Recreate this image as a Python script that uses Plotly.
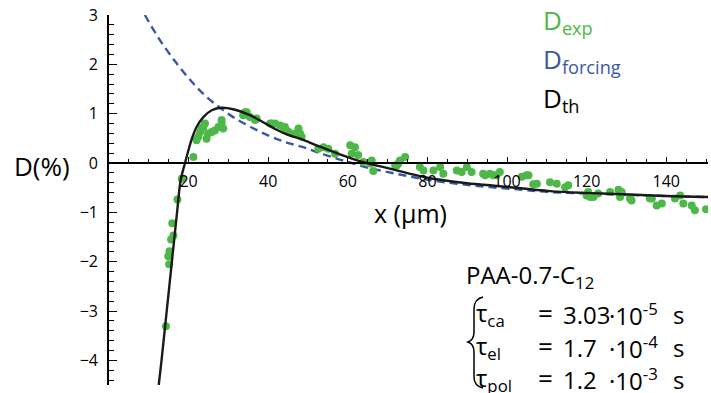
import plotly.graph_objects as go

# ---- data ----
exp_x = [14.3, 15.1, 14.9, 15.2, 15.6, 16.2, 15.9, 17.2, 18.3,
         21.2, 22.0, 22.4, 22.9, 23.3, 23.7, 24.1, 24.5, 24.9, 25.8, 26.6, 27.5, 28.3, 28.3, 28.7,
         33.7, 34.2, 34.6, 35.4, 36.7, 37.1,
         40.5, 40.9, 41.7, 43.0, 43.8, 44.2, 44.6, 45.1, 46.7, 47.6, 48.0, 48.4,
         52.6, 53.9, 55.1, 56.8, 60.6, 61.0, 61.8, 62.6, 63.9, 65.6, 66.0, 66.4,
         71.9, 72.3, 72.7, 73.1, 74.4, 78.1, 79.0, 81.5, 83.2, 84.0, 87.4, 88.6, 89.9, 91.1,
         94.0, 94.5, 95.7, 96.6, 97.4, 98.2, 103.7, 104.9, 105.4, 106.6, 107.5, 110.8, 112.5,
         114.6, 115.4, 120.0, 120.4, 120.9, 121.7, 122.9, 125.9, 128.0, 128.4, 128.8, 130.9,
         131.3, 135.9, 136.4, 137.6, 138.9, 142.2, 143.5, 144.3, 146.4, 147.2, 150.0]
exp_y = [-3.31, -2.05, -1.89, -1.79, -1.55, -1.47, -1.22, -0.74, -0.32,
         0.12, 0.46, 0.53, 0.63, 0.70, 0.73, 0.80, 0.49, 0.60, 0.63, 0.66, 0.73, 0.80, 0.87, 0.70,
         0.97, 1.03, 1.03, 0.93, 0.87, 0.90,
         0.80, 0.80, 0.80, 0.76, 0.73, 0.73, 0.66, 0.63, 0.60, 0.70, 0.60, 0.53,
         0.29, 0.32, 0.29, 0.19, 0.36, 0.19, 0.32, 0.16, 0.02, -0.01, 0.05, -0.16,
         -0.05, -0.05, -0.01, 0.05, 0.12, -0.08, -0.15, -0.15, -0.08, -0.22, -0.15, -0.18, -0.08, -0.18,
         -0.22, -0.25, -0.22, -0.25, -0.25, -0.18, -0.28, -0.25, -0.25, -0.43, -0.42, -0.39, -0.42,
         -0.49, -0.45, -0.66, -0.59, -0.69, -0.69, -0.62, -0.59, -0.54, -0.69, -0.59, -0.72,
         -0.76, -0.72, -0.72, -0.86, -0.82, -0.72, -0.66, -0.82, -0.86, -0.96, -0.94]

forcing_x = [9.0, 12.8, 17.0, 21.2, 24.5, 27.9, 31.2, 35.4, 40.5, 44.5, 48.8, 53.0, 57.2, 61.0,
             64.7, 69.8, 74.8, 80.0, 87.4, 95.7, 103.3, 110.8, 120.9, 130.9, 140.0, 150.5]
forcing_y = [3.0, 2.49, 2.02, 1.61, 1.34, 1.12, 0.93, 0.74, 0.54, 0.42, 0.32, 0.20, 0.09, 0.0,
             -0.09, -0.18, -0.26, -0.34, -0.42, -0.49, -0.54, -0.59, -0.62, -0.65, -0.67, -0.69]

th_x = [12.5, 13.2, 14.5, 15.8, 17.1, 18.0, 19.1, 20.8, 22.0, 23.7, 25.8, 28.3, 31.2, 35.4,
        38.0, 42.0, 45.0, 48.8, 53.0, 57.2, 61.0, 64.7, 69.8, 74.8, 80.0, 89.9, 98.2, 110.8,
        120.9, 130.9, 140.0, 150.5]
th_y = [-4.5, -4.0, -3.0, -2.0, -1.0, -0.35, 0.0, 0.49, 0.73, 0.93, 1.07, 1.12, 1.09, 0.97,
        0.86, 0.68, 0.57, 0.47, 0.33, 0.20, 0.09, 0.0, -0.10, -0.20, -0.30, -0.41, -0.47, -0.57,
        -0.61, -0.64, -0.67, -0.69]

x_ticks = [20, 40, 60, 80, 100, 120, 140]
y_ticks = [-4, -3, -2, -1, 0, 1, 2, 3]

GREEN = "#4DB848"
BLUE = "#3A58A8"
FONT = "Open Sans"

W, H = 711, 393
ML, MR, MT, MB = 109, 3, 15, 8
PW, PH = W - ML - MR, H - MT - MB
X0, X1 = 0, 150.5
Y0, Y1 = -4.5, 3.0


def px(xp):
    return (xp - ML) / PW


def py(yp):
    return (H - MB - yp) / PH


fig = go.Figure()
fig.add_trace(go.Scatter(x=forcing_x, y=forcing_y, mode="lines", line_shape="spline",
                         line=dict(color=BLUE, width=2.4, dash="8px,5px"), hoverinfo="skip"))
fig.add_trace(go.Scatter(x=exp_x, y=exp_y, mode="markers",
                         marker=dict(color=GREEN, size=8, line=dict(width=0))))
fig.add_trace(go.Scatter(x=th_x, y=th_y, mode="lines", line_shape="spline",
                         line=dict(color="#1a1a1a", width=2.4)))

fig.update_layout(
    width=W, height=H, showlegend=False,
    margin=dict(l=ML, r=MR, t=MT, b=MB, autoexpand=False),
    plot_bgcolor="white", paper_bgcolor="white",
    font=dict(family=FONT, color="black", size=16),
    xaxis=dict(range=[X0, X1], anchor="free", position=(0 - Y0) / (Y1 - Y0), automargin=False,
               showline=True, linecolor="black", linewidth=1.6,
               tickmode="array", tickvals=x_ticks, ticks="inside", ticklen=5, tickwidth=1.3,
               tickcolor="black", showgrid=False, zeroline=False, ticklabelstandoff=4,
               tickfont=dict(size=16, family=FONT),
               minor=dict(tick0=0, dtick=5, ticks="inside", ticklen=3, tickwidth=1.2,
                          tickcolor="black", showgrid=False)),
    yaxis=dict(range=[Y0, Y1], showline=True, linecolor="black", linewidth=1.6, automargin=False,
               tickmode="array", tickvals=y_ticks, ticks="inside", ticklen=8, tickwidth=1.3,
               tickcolor="black", showgrid=False, zeroline=False, ticklabelstandoff=6,
               tickfont=dict(size=16, family=FONT),
               minor=dict(tick0=0, dtick=0.2, ticks="inside", ticklen=5, tickwidth=1.2,
                          tickcolor="black", showgrid=False)),
)

ann = []


def add(text, xp, yp, size, color="black", xanchor="left"):
    ann.append(dict(text=text, x=px(xp), y=py(yp), xref="paper", yref="paper",
                    xanchor=xanchor, yanchor="middle", showarrow=False,
                    font=dict(family=FONT, size=size, color=color)))


add("D(%)", 12, 166, 26)
add("x (μm)", 410, 213, 25, xanchor="center")
add("D<sub>exp</sub>", 541, 21, 26, GREEN)
add("D<sub>forcing</sub>", 541, 60, 26, BLUE)
add("D<sub>th</sub>", 541, 99, 26)
add("PAA-0.7-C<sub>12</sub>", 464, 276, 24)
rows = [("τ<sub>ca</sub>", "3.03", "-5", 314),
        ("τ<sub>el</sub>", "1.7", "-4", 347),
        ("τ<sub>pol</sub>", "1.2", "-3", 379)]
for a, b, c, yy in rows:
    add(a, 474, yy, 24)
    add("=", 536, yy - 1, 26)
    add(b, 561, yy, 24)
    add("·10<sup>" + c + "</sup>", 607, yy, 24)
    add("s", 671, yy, 24)

fig.update_layout(annotations=ann)

# brace
pts = [(483, 297), (474, 299), (474, 309), (474, 332), (474, 340), (468, 342),
       (474, 344), (474, 352), (474, 377), (474, 386), (483, 388)]
P = [(px(a), py(b)) for a, b in pts]
path = (f"M {P[0][0]},{P[0][1]} Q {P[1][0]},{P[1][1]} {P[2][0]},{P[2][1]} "
        f"L {P[3][0]},{P[3][1]} Q {P[4][0]},{P[4][1]} {P[5][0]},{P[5][1]} "
        f"Q {P[6][0]},{P[6][1]} {P[7][0]},{P[7][1]} L {P[8][0]},{P[8][1]} "
        f"Q {P[9][0]},{P[9][1]} {P[10][0]},{P[10][1]}")
fig.add_shape(type="path", path=path, xref="paper", yref="paper",
              line=dict(color="black", width=1.5))

fig.write_html("out.html", config={"displayModeBar": False},
               post_script="document.body.style.margin='0px';document.body.style.overflow='hidden';")
